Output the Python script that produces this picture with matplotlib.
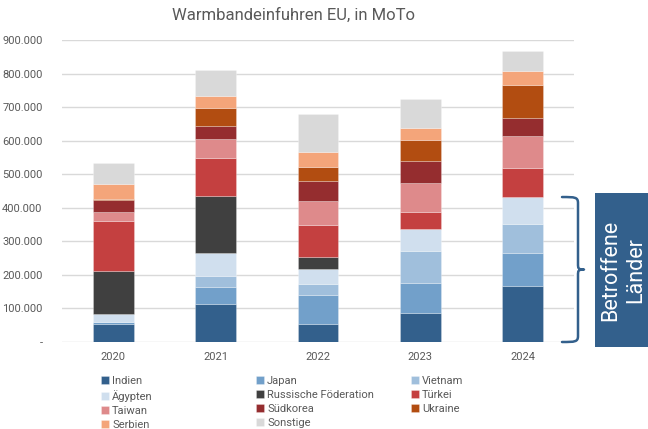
import matplotlib
matplotlib.use("Agg")
import matplotlib.pyplot as plt
import numpy as np
from matplotlib.patches import Rectangle, PathPatch
from matplotlib.path import Path
from matplotlib.ticker import FuncFormatter
import matplotlib.transforms as mtransforms

plt.rcParams['font.family'] = ['Roboto', 'DejaVu Sans']

years = ["2020", "2021", "2022", "2023", "2024"]
series_names = ["Indien", "Japan", "Vietnam", "Ägypten", "Russische Föderation",
                "Türkei", "Taiwan", "Südkorea", "Ukraine", "Serbien", "Sonstige"]
indien   = [53000, 112000, 53000, 86000, 167000]
japan    = [6000, 51000, 87000, 90000, 99000]
vietnam  = [2000, 33000, 34000, 96000, 86000]
aegypten = [23000, 68000, 44000, 64000, 80000]
russland = [127000, 170000, 34000, 0, 0]
tuerkei  = [151000, 113000, 96000, 50000, 88000]
taiwan   = [25000, 59000, 71000, 89000, 95000]
suedkorea = [36000, 38000, 62000, 65000, 53000]
ukraine  = [2000, 54000, 42000, 62000, 98000]
serbien  = [46000, 35000, 42000, 35000, 42000]
sonstige = [61000, 78000, 115000, 86000, 59000]

series = [indien, japan, vietnam, aegypten, russland, tuerkei, taiwan,
          suedkorea, ukraine, serbien, sonstige]
colors = ["#33608C", "#72A0CA", "#A0BFDC", "#D0DFEE", "#404040", "#C44040",
          "#DE8A8B", "#952D2F", "#B24D11", "#F4A57A", "#D9D9D9"]

fig = plt.figure(figsize=(6.48, 4.29), dpi=100)
ax = fig.add_axes([62/648, 1-342/429, 512/648, 302/429])

x = np.arange(len(years))
bottom = np.zeros(len(years))
handles = []
for name, vals, c in zip(series_names, series, colors):
    v = np.array(vals, dtype=float)
    b = ax.bar(x, v, 0.4, bottom=bottom, color=c, label=name,
               edgecolor=(1, 1, 1, 0.35), linewidth=0.5, zorder=3)
    handles.append(b)
    bottom += v

ax.set_xlim(-0.5, 4.5)
ax.set_ylim(0, 900000)
ax.set_yticks(np.arange(0, 900001, 100000))
ax.yaxis.set_major_formatter(FuncFormatter(
    lambda v, p: "-" if v == 0 else f"{int(v):,}".replace(",", ".")))
ax.set_xticks(x)
ax.set_xticklabels(years)
ax.grid(axis="y", color="#D9D9D9", linewidth=1, zorder=0)
for s in ax.spines.values():
    s.set_visible(False)
ax.tick_params(axis="both", length=0, colors="#595959", labelsize=8)
ax.tick_params(axis="y", pad=14)
ax.tick_params(axis="x", pad=7)

fig.text(293/648, 1-15/429, "Warmbandeinfuhren EU, in MoTo", ha="center", va="center",
         fontsize=12, color="#595959")

# Legend: three columns, filled row by row
ncol = 3
col_x = [101, 256, 411]
for c in range(ncol):
    idx = list(range(c, len(handles), ncol))
    leg = fig.legend([handles[i] for i in idx], [series_names[i] for i in idx],
                     loc="upper left", bbox_to_anchor=(col_x[c]/648, 1-376/429),
                     frameon=False, fontsize=8, handlelength=0.7, handleheight=0.7,
                     handletextpad=0.3, labelspacing=0.36,
                     borderpad=0, borderaxespad=0)
    for t in leg.get_texts():
        t.set_color("#595959")

# Bracket for "Betroffene Länder"
betroffen_top = sum(v[-1] for v in series[:4])
trans = mtransforms.blended_transform_factory(ax.transAxes, ax.transData)
x0 = (562-62)/512
xv = (578-62)/512
xt = (584-62)/512
xc = (575-62)/512
ymid = betroffen_top/2
dy = 18000
verts = [(x0, betroffen_top), (xc, betroffen_top), (xv, betroffen_top), (xv, betroffen_top-dy),
         (xv, ymid+dy),
         (xv, ymid+3000), (xv, ymid), (xt, ymid),
         (xv, ymid), (xv, ymid-3000), (xv, ymid-dy),
         (xv, dy),
         (xv, 0), (xc, 0), (x0, 0)]
codes = [Path.MOVETO, Path.CURVE4, Path.CURVE4, Path.CURVE4,
         Path.LINETO,
         Path.CURVE4, Path.CURVE4, Path.CURVE4,
         Path.CURVE4, Path.CURVE4, Path.CURVE4,
         Path.LINETO,
         Path.CURVE4, Path.CURVE4, Path.CURVE4]
ax.add_patch(PathPatch(Path(verts, codes), transform=trans, facecolor="none",
                       edgecolor="#33608C", linewidth=1.8, clip_on=False, zorder=5,
                       joinstyle="round", capstyle="round"))

fig.patches.append(Rectangle((595/648, 1-347/429), 53/648, 154/429,
                             transform=fig.transFigure, facecolor="#33608C",
                             edgecolor="none"))
fig.text(623/648, 1-270/429, "Betroffene\nLänder", rotation=90, ha="center",
         va="center", color="white", fontsize=15.5, linespacing=1.25)

fig.savefig("out.png", dpi=100)
